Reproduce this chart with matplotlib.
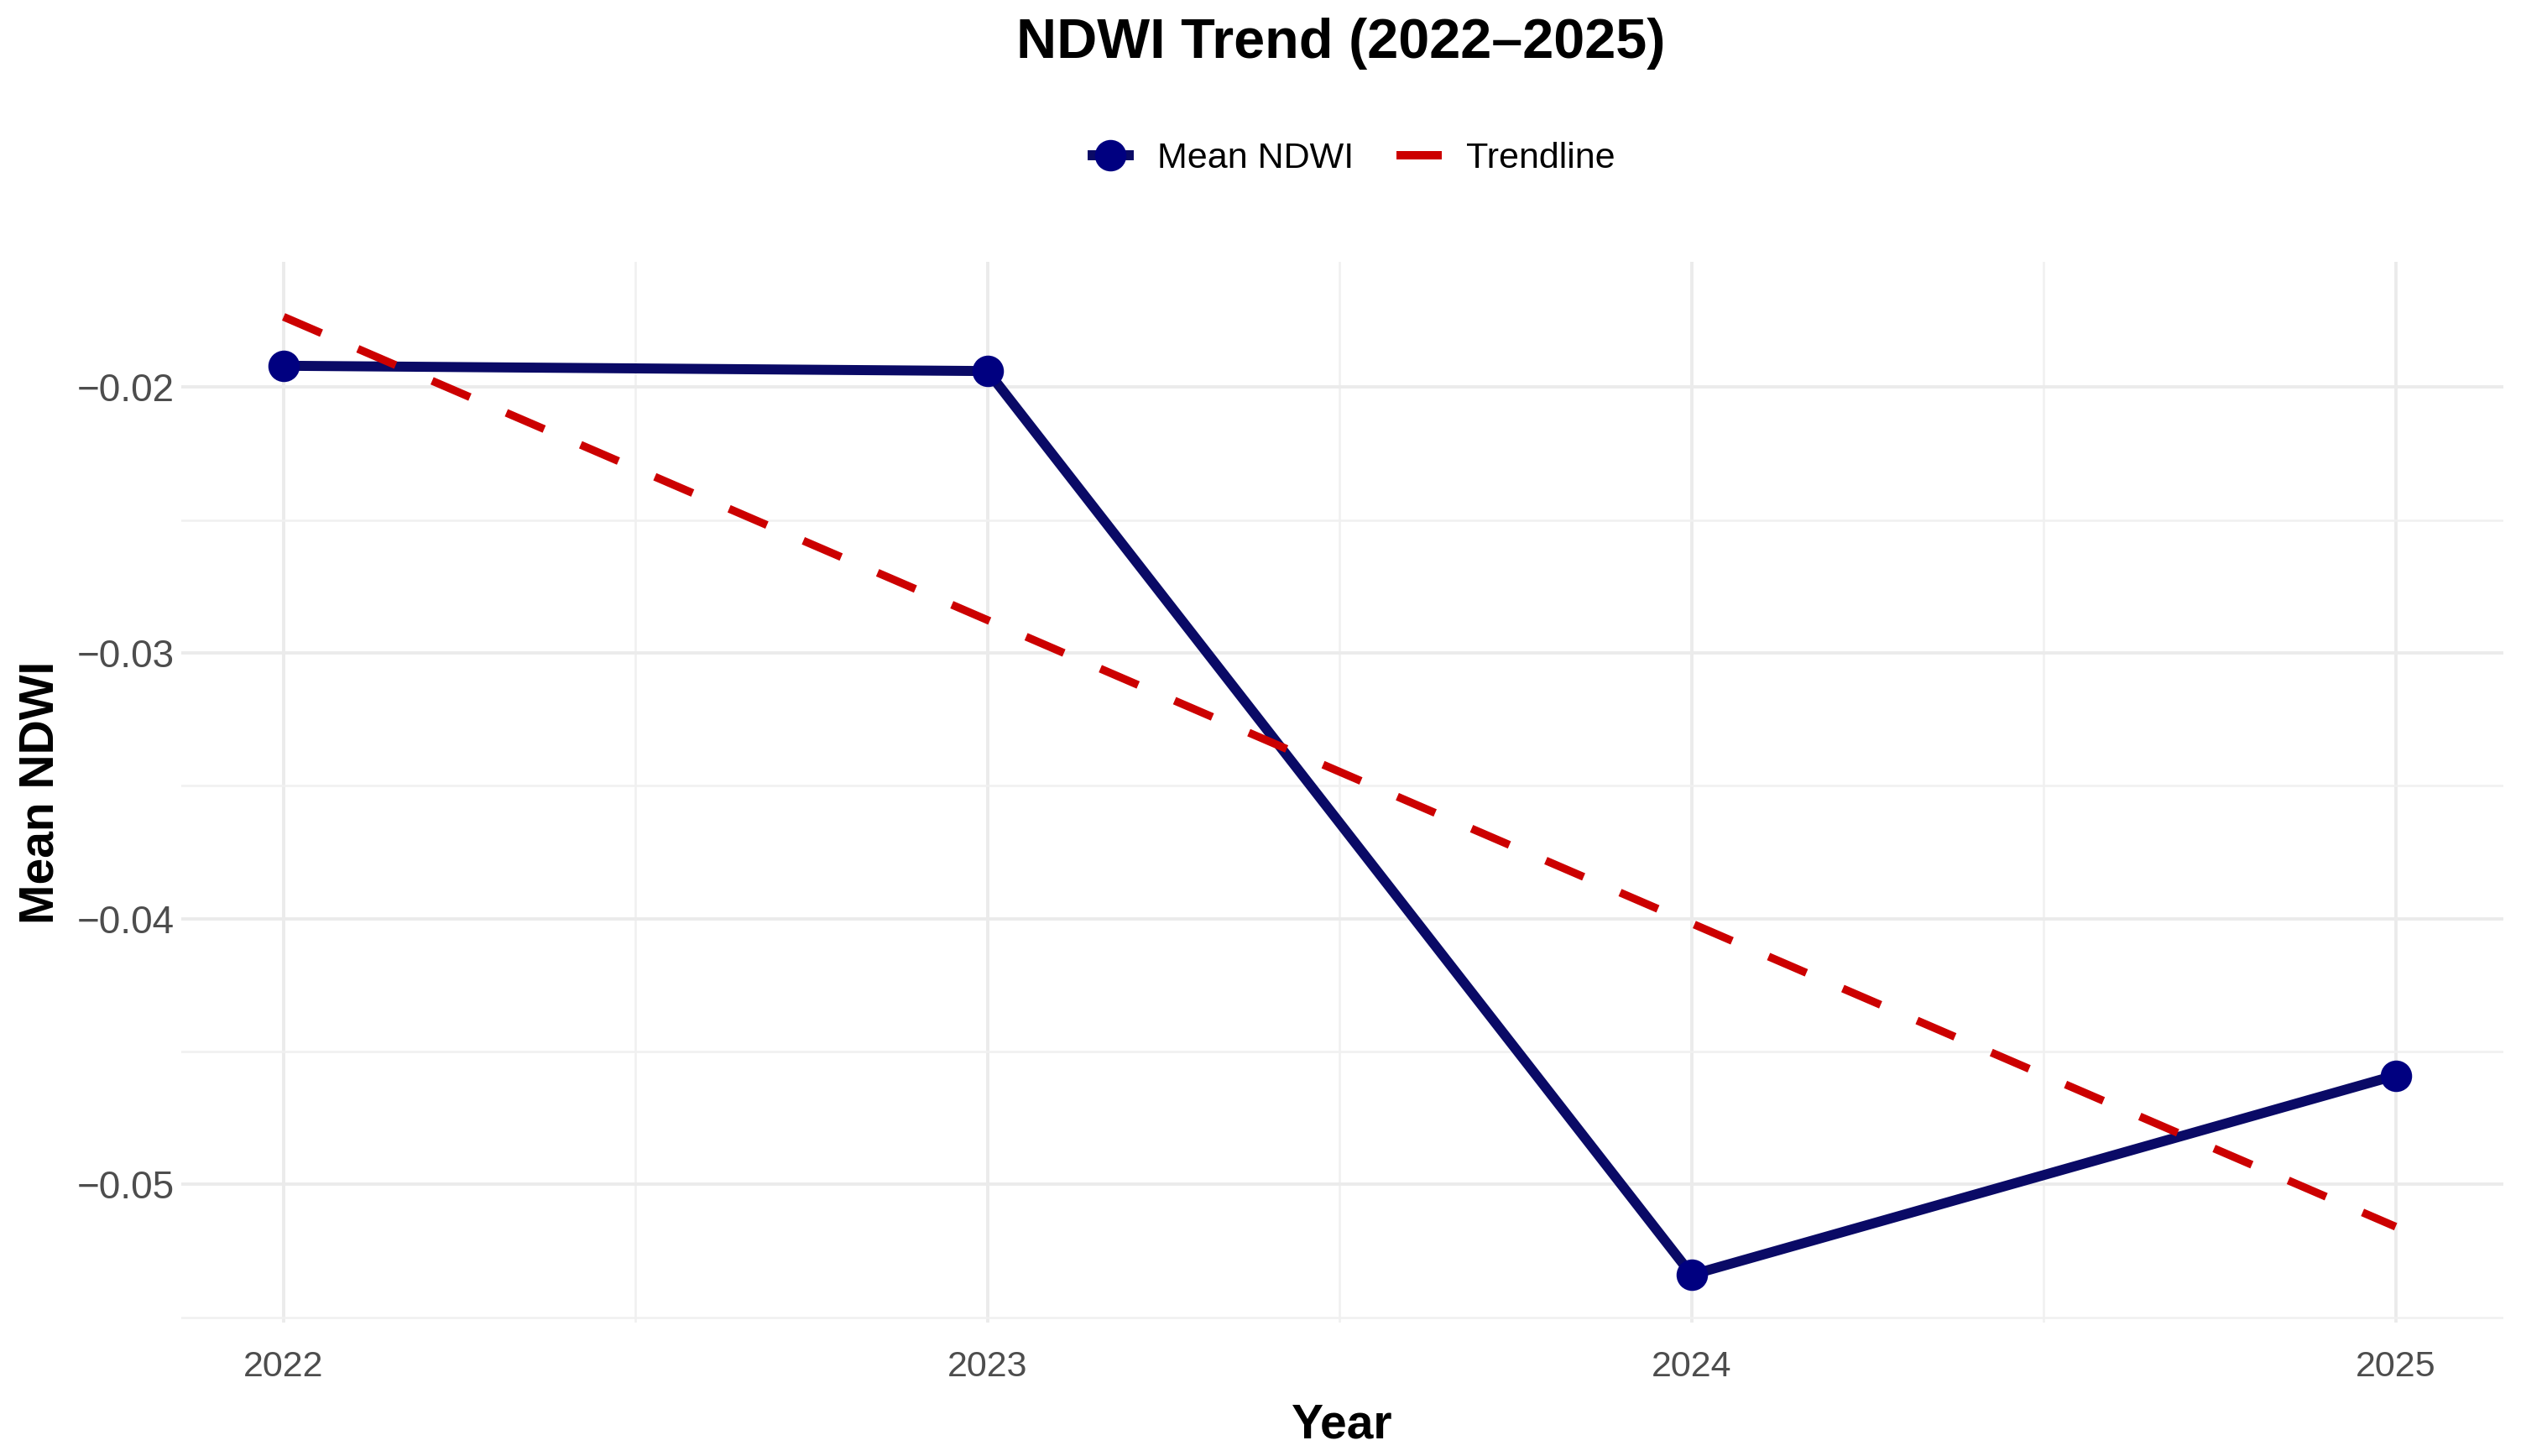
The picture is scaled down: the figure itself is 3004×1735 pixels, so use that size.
import numpy as np
import matplotlib
matplotlib.use("Agg")
import matplotlib.pyplot as plt
from matplotlib.lines import Line2D
from matplotlib.ticker import FixedLocator, FuncFormatter

# ---- data ----
years = [2022, 2023, 2024, 2025]
mean_ndwi = [-0.0192, -0.0194, -0.0534, -0.0459]
y_major = [-0.05, -0.04, -0.03, -0.02]
y_minor = [-0.055, -0.045, -0.035, -0.025]
x_minor = [2022.5, 2023.5, 2024.5]
title = "NDWI Trend (2022\u20132025)"

# linear trendline fitted to the data
coef = np.polyfit(years, mean_ndwi, 1)
trend = np.polyval(coef, years)

plt.rcParams['font.family'] = ['Liberation Sans', 'DejaVu Sans']

W, H, DPI = 3004, 1735, 200
fig = plt.figure(figsize=(W / DPI, H / DPI), dpi=DPI)
fig.patch.set_facecolor('white')
ax = fig.add_axes([0.072, 0.0916, 0.993 - 0.072, 0.820 - 0.0916])

navy = '#000080'
line_navy = '#0A0A66'
red = '#CC0000'

ax.plot(years, mean_ndwi, color=line_navy, lw=4.3, solid_capstyle='round',
        solid_joinstyle='round', zorder=3)
ax.plot(years, mean_ndwi, ls='none', marker='o', markersize=12.5,
        markerfacecolor=navy, markeredgecolor=navy, zorder=3)
ax.plot(years, trend, color=red, lw=3.4, dashes=(5.2, 5.0), zorder=4)

ax.set_xlim(2021.855, 2025.153)
ax.set_ylim(-0.0552, -0.0153)

ax.xaxis.set_major_locator(FixedLocator(years))
ax.xaxis.set_minor_locator(FixedLocator(x_minor))
ax.yaxis.set_major_locator(FixedLocator(y_major))
ax.yaxis.set_minor_locator(FixedLocator(y_minor))
ax.xaxis.set_major_formatter(FuncFormatter(lambda v, p: f"{int(round(v))}"))
ax.yaxis.set_major_formatter(FuncFormatter(lambda v, p: f"{v:.2f}".replace('-', '\u2212')))

ax.grid(which='major', color='#EBEBEB', lw=1.4)
ax.grid(which='minor', color='#F0F0F0', lw=0.9)
ax.set_axisbelow(True)
for s in ax.spines.values():
    s.set_visible(False)
ax.tick_params(which='both', length=0)
ax.tick_params(axis='x', labelsize=15.5, labelcolor='#4D4D4D', pad=12)
ax.tick_params(axis='y', labelsize=16.5, labelcolor='#4D4D4D', pad=3)

ax.set_xlabel("Year", fontsize=20.5, fontweight='bold', labelpad=8)
ax.set_ylabel("Mean NDWI", fontsize=20.5, fontweight='bold', labelpad=6)

fig.text(0.532, 0.970, title, ha='center', va='center', fontsize=24, fontweight='bold')

handles = [
    Line2D([], [], color=line_navy, lw=4.3, marker='o', markersize=12.5,
           markerfacecolor=navy, markeredgecolor=navy),
    Line2D([], [], color=red, lw=3.6),
]
fig.legend(handles, ["Mean NDWI", "Trendline"], loc='center', bbox_to_anchor=(0.537, 0.891),
           ncol=2, frameon=False, fontsize=15.5, handlelength=1.0, handletextpad=0.8,
           columnspacing=1.3)

fig.savefig("out.png", dpi=DPI, facecolor='white')
